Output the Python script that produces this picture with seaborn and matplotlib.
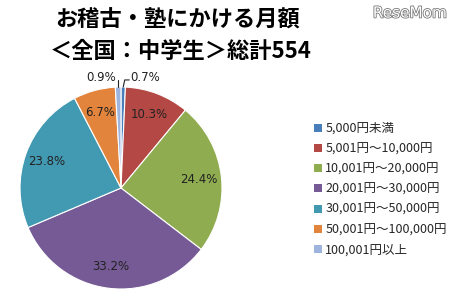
import matplotlib
matplotlib.use("Agg")
import matplotlib.pyplot as plt
import matplotlib.patheffects as pe
import seaborn as sns
import numpy as np

categories = ["5,000円未満", "5,001円～10,000円", "10,001円～20,000円",
              "20,001円～30,000円", "30,001円～50,000円", "50,001円～100,000円",
              "100,001円以上"]
values = [0.7, 10.3, 24.4, 33.2, 23.8, 6.7, 0.9]
labels = ["0.7%", "10.3%", "24.4%", "33.2%", "23.8%", "6.7%", "0.9%"]
title_lines = ["お稽古・塾にかける月額", "＜全国：中学生＞総計554"]
colors = ["#4A7EBB", "#B34845", "#90AC50", "#755A95", "#4299B2", "#E3843C", "#9DB5DE"]

sns.set_theme(style="white")
plt.rcParams['font.family'] = ['Noto Sans CJK JP', 'DejaVu Sans']

W, H = 456, 296
fig = plt.figure(figsize=(W / 100, H / 100), dpi=100)
fig.patch.set_facecolor("white")

cx, cy, r = 121, 188, 101
ax = fig.add_axes([(cx - r) / W, 1 - (cy + r) / H, 2 * r / W, 2 * r / H])
wedges, _ = ax.pie(values, colors=sns.color_palette(colors), startangle=90,
                   counterclock=False, radius=1.0,
                   wedgeprops=dict(edgecolor="white", linewidth=0.8))
ax.set_xlim(-1, 1)
ax.set_ylim(-1, 1)
ax.set_aspect("auto")
ax.axis("off")

for w, lab, v in zip(wedges, labels, values):
    ang = np.deg2rad((w.theta1 + w.theta2) / 2)
    if v > 3:
        d = 0.78
        ax.text(d * np.cos(ang), d * np.sin(ang), lab, ha="center", va="center",
                fontsize=8.5, color="#222222", family=["DejaVu Sans"])
    else:
        x0, y0 = np.cos(ang), np.sin(ang)
        if np.cos(ang) > 0:
            ax.plot([x0, x0 + 0.015, x0 + 0.06], [y0, y0 + 0.07, y0 + 0.07],
                    color="#222222", lw=0.8, clip_on=False)
            ax.text(x0 + 0.07, y0 + 0.09, lab, ha="left", va="center",
                    fontsize=8.5, color="#222222", family=["DejaVu Sans"])
        else:
            ax.plot([x0, x0], [y0, y0 + 0.07], color="#222222", lw=0.8,
                    clip_on=False)
            ax.text(x0 - 0.02, y0 + 0.09, lab, ha="right", va="center",
                    fontsize=8.5, color="#222222", family=["DejaVu Sans"])

fig.text(178 / W, 1 - 20 / H, title_lines[0], ha="center", va="center",
         fontsize=16, fontweight="bold", color="black")
fig.text(181 / W, 1 - 51 / H, title_lines[1], ha="center", va="center",
         fontsize=16, fontweight="bold", color="black")

fig.text(410 / W, 1 - 13 / H, "ReseMom", ha="center", va="center", fontsize=11,
         color="white", family=["DejaVu Sans"],
         path_effects=[pe.withStroke(linewidth=1.2, foreground="#777777")])

leg = fig.legend(wedges, categories, loc="upper left",
                 bbox_to_anchor=(314 / W, 1 - 122 / H), frameon=False,
                 fontsize=9, handlelength=0.6, handleheight=0.6,
                 handletextpad=0.3, labelspacing=0.58, borderpad=0,
                 borderaxespad=0)
for h in leg.legend_handles:
    h.set_edgecolor("none")

fig.savefig("out.png", dpi=100, facecolor="white")
